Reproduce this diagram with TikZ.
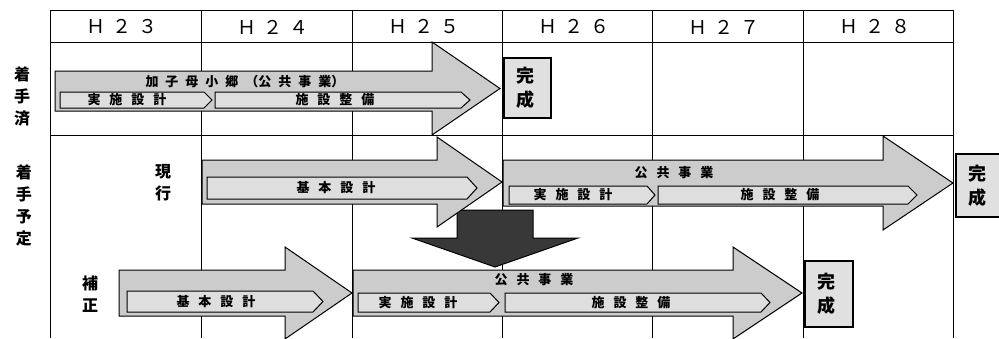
\documentclass[tikz,border=0pt]{standalone}
\usepackage{fontspec}
\setmainfont{Noto Sans CJK JP}
\newcommand\gp{\hspace{9pt}}
\newcommand\gw{\hspace{7pt}}
\newcommand\gh{\hspace{7pt}}
\begin{document}
\begin{tikzpicture}[x=1pt,y=-1pt,
  gridline/.style={line width=0.8pt, draw=black},
  bigbar/.style={fill=black!20, draw=black, line width=1pt, line join=miter},
  innerbar/.style={fill=black!13, draw=black, line width=1pt},
  darkarrow/.style={fill=black!78, draw=black, line width=1pt},
  donebox/.style={fill=black!12, draw=black, line width=2.2pt},
  hdr/.style={font=\fontsize{19}{19}\selectfont, inner sep=0pt},
  rowlab/.style={font=\bfseries\fontsize{16}{22}\selectfont, align=center, inner sep=0pt},
  bartext/.style={font=\bfseries\fontsize{13}{13}\selectfont, inner sep=0pt},
  donetext/.style={font=\bfseries\fontsize{18}{24}\selectfont, align=center, inner sep=0pt}]
\useasboundingbox (0,0) rectangle (999,338);
\fill[white] (0,0) rectangle (999,338);
% grid
\foreach \gx in {50,201,352,502,652,803,953} {\draw[gridline] (\gx,10) -- (\gx,338);}
\draw[gridline] (50,10) -- (953,10);
\draw[gridline] (50,42) -- (953,42);
\draw[gridline] (50,135) -- (953,135);
% header
\node[hdr] (h23) at (122,27) {Ｈ\gh２\gh３};
\node[hdr] (h24) at (273,27) {Ｈ\gh２\gh４};
\node[hdr] (h25) at (424,27) {Ｈ\gh２\gh５};
\node[hdr] (h26) at (574,27) {Ｈ\gh２\gh６};
\node[hdr] (h27) at (724,27) {Ｈ\gh２\gh７};
\node[hdr] (h28) at (875,27) {Ｈ\gh２\gh８};
% row labels
\node[rowlab] (lab1) at (22,96) {着\\手\\済};
\node[rowlab] (lab2) at (24,205) {着\\手\\予\\定};
\node[rowlab] (lab3) at (163,183) {現\\行};
\node[rowlab] (lab4) at (90,294) {補\\正};
% dark down arrow
\draw[darkarrow] (457,210) -- (533,210) -- (533,238) -- (578,238) -- (495,267) -- (412,238) -- (457,238) -- cycle;
% row 1 big arrow
\draw[bigbar] (55,71) -- (432,71) -- (432,42) -- (500,88.5) -- (432,135) -- (432,111) -- (55,111) -- cycle;
\draw[innerbar] (60,92) -- (204,92) -- (212,100) -- (204,108) -- (60,108) -- cycle;
\draw[innerbar] (215,92) -- (461,92) -- (470,100) -- (461,108) -- (215,108) -- cycle;
\node[bartext] (t1) at (245,82) {加\gw 子\gw 母\gw 小\gw 郷\gw（公\gw 共\gw 事\gw 業）};
\node[bartext] (t2) at (127,100) {実\gp 施\gp 設\gp 計};
\node[bartext] (t3) at (335,100) {施\gp 設\gp 整\gp 備};
% row 2 arrows
\draw[bigbar] (202,160) -- (437,160) -- (437,137) -- (502,182) -- (437,227) -- (437,204) -- (202,204) -- cycle;
\draw[innerbar] (207,177) -- (467,177) -- (477,188) -- (467,199) -- (207,199) -- cycle;
\node[bartext] (t4) at (336,188) {基\gp 本\gp 設\gp 計};
\draw[bigbar] (503,160) -- (883,160) -- (883,136) -- (953,183) -- (883,230) -- (883,206) -- (503,206) -- cycle;
\draw[innerbar] (509,186) -- (647,186) -- (655,195) -- (647,204) -- (509,204) -- cycle;
\draw[innerbar] (658,186) -- (908,186) -- (917,195) -- (908,204) -- (658,204) -- cycle;
\node[bartext] (t5) at (674,173) {公\gp 共\gp 事\gp 業};
\node[bartext] (t6) at (573,195) {実\gp 施\gp 設\gp 計};
\node[bartext] (t7) at (780,195) {施\gp 設\gp 整\gp 備};
% row 3 arrows
\draw[bigbar] (119,270) -- (285,270) -- (285,247) -- (352,293) -- (285,339) -- (285,316) -- (119,316) -- cycle;
\draw[innerbar] (127,291) -- (313,291) -- (323,301.5) -- (313,312) -- (127,312) -- cycle;
\node[bartext] (t8) at (216,301.5) {基\gp 本\gp 設\gp 計};
\draw[bigbar] (353,270) -- (733,270) -- (733,247) -- (802,293) -- (733,339) -- (733,316) -- (353,316) -- cycle;
\draw[innerbar] (358,293) -- (490,293) -- (499,302.5) -- (490,312) -- (358,312) -- cycle;
\draw[innerbar] (505,293) -- (761,293) -- (770,302.5) -- (761,312) -- (505,312) -- cycle;
\node[bartext] (t9) at (534,280) {公\gp 共\gp 事\gp 業};
\node[bartext] (t10) at (418,302.5) {実\gp 施\gp 設\gp 計};
\node[bartext] (t11) at (631,302.5) {施\gp 設\gp 整\gp 備};
% completion boxes
\draw[donebox] (504,58) rectangle (551,118);
\node[donetext] (c1) at (525,88) {完\\成};
\draw[donebox] (956,154) rectangle (1005,217);
\node[donetext] (c2) at (977,186) {完\\成};
\draw[donebox] (805,261) rectangle (853,327);
\node[donetext] (c3) at (826,294) {完\\成};
\end{tikzpicture}
\end{document}
